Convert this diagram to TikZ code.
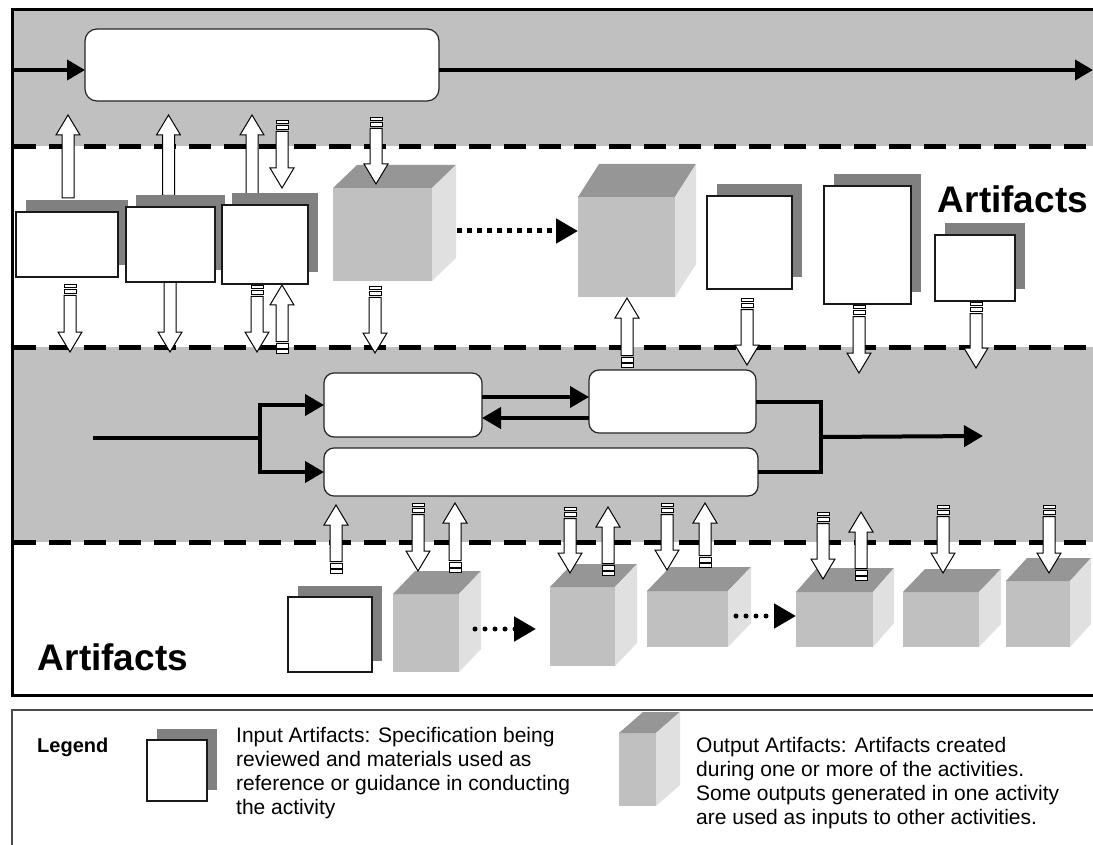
\documentclass[tikz,border=0pt]{standalone}
\usepackage{fontspec}
\setmainfont{Liberation Sans}
\usetikzlibrary{arrows.meta,shadows}

\definecolor{bandgray}{HTML}{C0C0C0}
\definecolor{shadowgray}{HTML}{808080}
\definecolor{cubefront}{HTML}{C0C0C0}
\definecolor{cubetop}{HTML}{969696}
\definecolor{cubeside}{HTML}{E0E0E0}

\tikzset{
  band/.style={fill=bandgray},
  lane/.style={line width=5pt, dash pattern=on 22pt off 13pt},
  activity/.style={draw=black!85, line width=1.2pt, fill=white, rounded corners=10pt, inner sep=0pt, outer sep=0pt},
  inart/.style={draw=black!90, line width=1.3pt, fill=white, inner sep=0pt, outer sep=0pt,
    drop shadow={shadow xshift=10pt, shadow yshift=11.5pt, fill=shadowgray, opacity=1}},
  outface/.style={fill=cubefront, inner sep=0pt, outer sep=0pt},
  flow/.style={line width=4pt},
  flowarr/.style={flow, -{Triangle[length=19pt, width=21pt]}},
  blk/.style={draw=black, line width=1pt, fill=white},
  seq/.style={line width=5pt, dash pattern=on 5pt off 5pt, -{Triangle[length=22pt, width=24pt]}},
  dots/.style={line width=5pt, line cap=round, dash pattern=on 0pt off 10pt, -{Triangle[length=22pt, width=24pt]}},
  big/.style={font=\fontsize{37}{40}\selectfont\bfseries, inner sep=0pt},
  legtext/.style={font=\fontsize{21}{24}\selectfont, align=left, inner sep=0pt, anchor=north west},
}

% input artifact: name, x1, y1, x2, y2
\newcommand{\artin}[5]{%
  \node[inart, minimum width={(#4-#2)*1pt}, minimum height={(#5-#3)*1pt}] (#1) at ({(#2+#4)/2},{(#3+#5)/2}) {};}

% output artifact: name, x1, y1, x2, y2, depth x, depth y
\newcommand{\outcube}[7]{%
  \node[outface, minimum width={(#4-#2)*1pt}, minimum height={(#5-#3)*1pt}] (#1) at ({(#2+#4)/2},{(#3+#5)/2}) {};
  \fill[cubetop] (#1.north west) -- ++(#6,-#7) -- ([shift={(#6,-#7)}]#1.north east) -- (#1.north east) -- cycle;
  \fill[cubeside] (#1.north east) -- ++(#6,-#7) -- ([shift={(#6,-#7)}]#1.south east) -- (#1.south east) -- cycle;}

% block arrow: x, tail y, tip y, striped tail (1/0)
\newcommand{\blkarrow}[4]{%
  \pgfmathsetmacro{\baDir}{(#3>#2) ? 1 : -1}
  \pgfmathsetmacro{\baHead}{#3-20*\baDir}
  \pgfmathsetmacro{\baStart}{#2+(#4)*11.5*\baDir}
  \filldraw[blk] ({#1-6},\baStart) -- ({#1-6},\baHead) -- ({#1-12},\baHead) -- (#1,#3)
    -- ({#1+12},\baHead) -- ({#1+6},\baHead) -- ({#1+6},\baStart) -- cycle;
  \ifnum#4=1
    \filldraw[blk, line width=0.8pt] ({#1-6},#2) rectangle ({#1+6},{#2+3.5*\baDir});
    \filldraw[blk, line width=0.8pt] ({#1-6},{#2+5*\baDir}) rectangle ({#1+6},{#2+9.5*\baDir});
  \fi}

\begin{document}
\begin{tikzpicture}[x=1pt, y=-1pt]
  \useasboundingbox (0,0) rectangle (1093,845);
  \fill[white] (0,0) rectangle (1093,845);

  % lanes
  \fill[band] (12,10) rectangle (1093,146.5);
  \fill[band] (12,347) rectangle (1093,542);
  \draw[lane] (14,146.5) -- (1093,146.5);
  \draw[lane] (14,347) -- (1093,347);
  \draw[lane] (14,542) -- (1093,542);
  \draw[line width=3pt] (1093,10) -- (12,10) -- (12,695) -- (1093,695);

  % activities
  \node[activity, rounded corners=12pt, minimum width=354pt, minimum height=72pt] (T) at (262,65) {};
  \node[activity, minimum width=158pt, minimum height=64pt] (P) at (403,405) {};
  \node[activity, minimum width=167pt, minimum height=63pt] (Q) at (672.5,401.5) {};
  \node[activity, minimum width=434pt, minimum height=48pt] (R) at (541,472) {};

  % flow
  \coordinate (lft) at (12,70);
  \coordinate (rgt) at (1093,70);
  \draw[flow, -{Triangle[length=18pt, width=20pt]}] (lft) -- ([yshift=-5pt]T.west);
  \draw[flow, -{Triangle[length=18pt, width=20pt]}] ([yshift=-5pt]T.east) -- (rgt);
  \coordinate (src) at (93,438);
  \coordinate (fork) at (260,438);
  \coordinate (join) at (821,437);
  \coordinate (sink) at (983,436);
  \draw[flow] (src) -- (fork);
  \draw[flowarr] (fork) |- (P.west);
  \draw[flowarr] (fork) |- (R.west);
  \draw[flowarr] ([yshift=8pt]P.east) -- ([yshift=4.5pt]Q.west);
  \draw[flowarr] ([yshift=-16.5pt]Q.west) -- ([yshift=-13pt]P.east);
  \draw[flow] (Q.east) -| (join) |- (R.east);
  \draw[flowarr] (join) -- (sink);

  % output artifacts
  \outcube{out1}{333}{188}{432}{281}{24}{23}
  \outcube{out2}{578}{197}{675}{297}{21}{33}
  \outcube{out3}{393}{594}{459}{672}{22}{23}
  \outcube{out4}{550}{587}{615}{666}{22}{23}
  \outcube{out5}{647}{591}{728}{647}{23}{24}
  \outcube{out6}{796}{592}{873}{647}{21}{24}
  \outcube{out7}{903}{592}{979}{647}{22}{23}
  \outcube{out8}{1006}{581}{1070}{647}{21}{23}
  \draw[seq] ([xshift=25pt, yshift=3.5pt]out1.east) -- ([yshift=16pt]out2.west);
  \draw[dots] ([xshift=16pt, yshift=4pt]out3.east) -- ([xshift=-14pt, yshift=-2.5pt]out4.west);
  \draw[dots] ([xshift=8pt, yshift=3pt]out5.east) -- ([yshift=3.5pt]out6.west);

  % inputs and outputs
  \blkarrow{68}{198}{115}{0}
  \blkarrow{168.5}{207}{115}{1}
  \blkarrow{252}{194}{115}{0}
  \blkarrow{282}{120}{188}{1}
  \blkarrow{376}{117}{184}{1}
  \blkarrow{70}{284}{352}{1}
  \blkarrow{170}{282}{352}{0}
  \blkarrow{257}{285}{352}{1}
  \blkarrow{282}{353}{285}{1}
  \blkarrow{375}{286}{353}{1}
  \blkarrow{627}{367}{298}{1}
  \blkarrow{747}{298}{365}{1}
  \blkarrow{859}{305}{373}{1}
  \blkarrow{976}{302}{368}{1}
  \blkarrow{336}{573}{505}{1}
  \blkarrow{418}{503}{571}{1}
  \blkarrow{455}{572}{503}{1}
  \blkarrow{570}{507}{573}{1}
  \blkarrow{608}{575}{507}{1}
  \blkarrow{667}{503}{570}{1}
  \blkarrow{705}{567}{503}{1}
  \blkarrow{823}{512}{579}{1}
  \blkarrow{861}{580}{512}{1}
  \blkarrow{943}{505}{573}{1}
  \blkarrow{1049}{505}{573}{1}

  % input artifacts
  \artin{in1}{16}{212}{118}{277}
  \artin{in2}{126}{207}{215}{282}
  \artin{in3}{222}{205}{308}{284}
  \artin{in4}{707}{196}{792}{289}
  \artin{in5}{824}{186}{911}{304}
  \artin{in6}{935}{235}{1015}{301}
  \artin{in7}{288}{597}{372}{672}

  \node[big] (art1) at (1013,199) {Artifacts};
  \node[big] (art2) at (113,657.5) {Artifacts};

  % legend
  \draw[black!70, line width=1.2pt] (1093,710) -- (12,710) -- (12,845);
  \node[font=\fontsize{20}{24}\selectfont\bfseries, anchor=base west, inner sep=0pt] (leg) at (37,752) {Legend};
  \artin{legin}{147}{740}{207}{801}
  \node[legtext] (intxt) at (236,727) {Input Artifacts: Specification being\\reviewed and materials used as\\reference or guidance in conducting\\the activity};
  \outcube{legout}{619}{733}{656}{806}{24}{21}
  \node[legtext] (outtxt) at (696,737) {Output Artifacts: Artifacts created\\during one or more of the activities.\\Some outputs generated in one activity\\are used as inputs to other activities.};
\end{tikzpicture}
\end{document}
